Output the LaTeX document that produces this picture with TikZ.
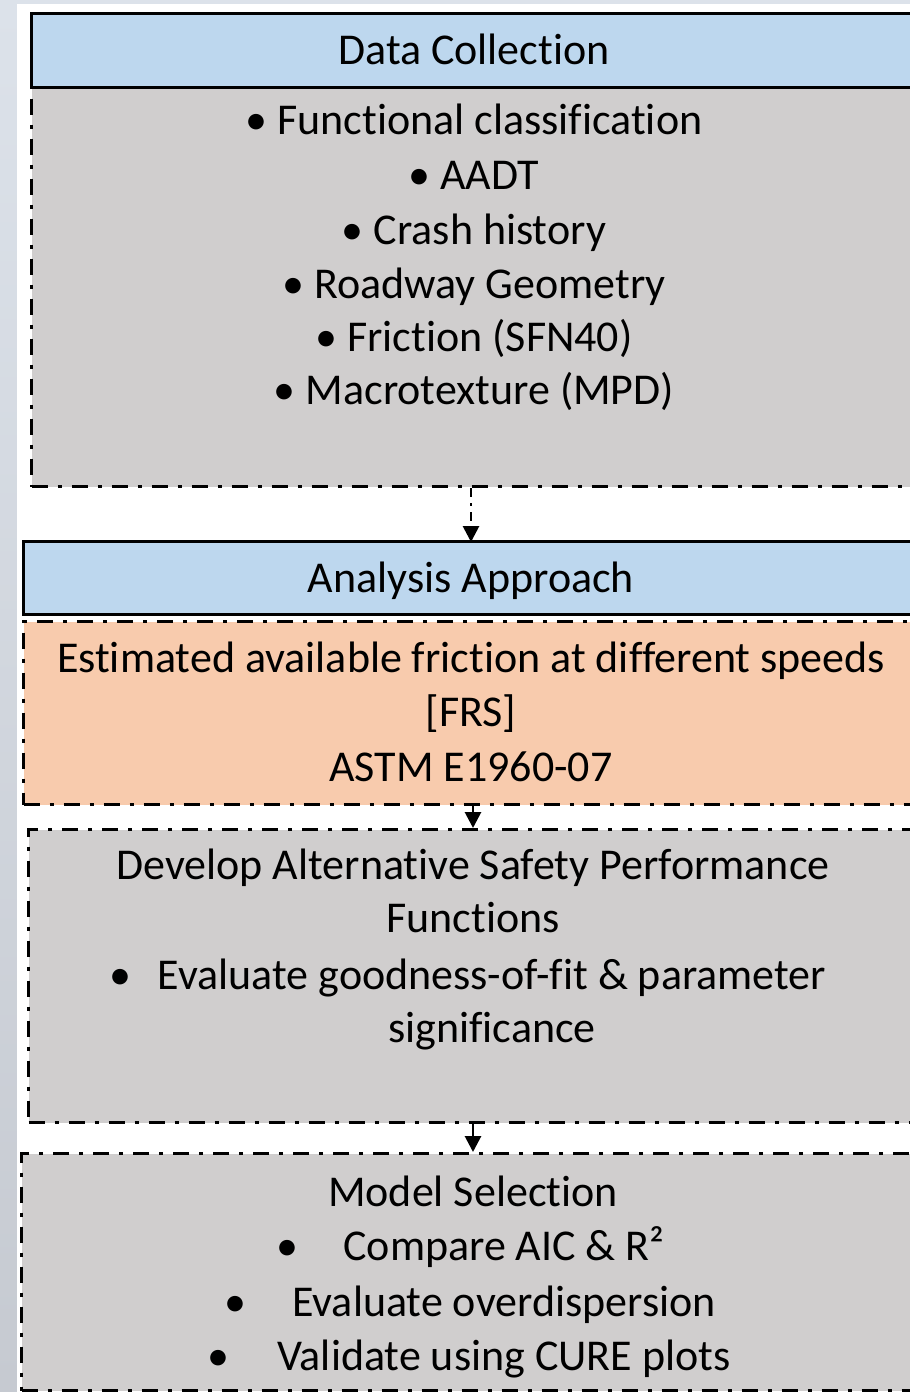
\documentclass[tikz,border=0pt]{standalone}
\usepackage{fontspec}
\setmainfont{Carlito}[RawFeature={-liga;-clig;-calt;-dlig}]
\usetikzlibrary{arrows.meta}
\definecolor{hdrblue}{HTML}{BDD7EE}
\definecolor{bodygray}{HTML}{D0CECE}
\definecolor{bodyorange}{HTML}{F8CBAD}
\definecolor{bgtop}{HTML}{DCE2EA}
\definecolor{bgbot}{HTML}{C6CAD1}
\begin{document}
\begin{tikzpicture}[x=1pt,y=-1pt,
  txt/.style={font=\fontsize{44}{54}\selectfont, inner sep=0pt, anchor=base},
  hdrbox/.style={draw=black, line width=3.4pt, fill=hdrblue, inner sep=0pt, anchor=north west},
  dashdot/.style={dash pattern=on 16pt off 10pt on 4pt off 10pt},
  bodybox/.style={draw=black, line width=3.3pt, dashdot, inner sep=0pt, anchor=north west},
  arr/.style={draw=black, line width=2.8pt, -{Triangle[width=16pt,length=16pt]}},
]
\useasboundingbox (0,0) rectangle (910,1392);
\clip (0,0) rectangle (910,1392);
% page background
\shade[top color=bgtop, bottom color=bgbot] (0,0) rectangle (17,1392);
\fill[bgtop] (17,0) rectangle (910,4);
\fill[white] (17,4) rectangle (910,1392);

% Box 1
\node[bodybox, fill=bodygray, minimum width=895pt, minimum height=399pt] (dcb) at (30,86) {};
\node[hdrbox, minimum width=895pt, minimum height=74pt] (dch) at (30,12) {};
\node[txt] (t1) at (474,64) {Data Collection};
\node[txt] (t2) at (474,134) {• Functional classification};
\node[txt] (t3) at (474,189) {• AADT};
\node[txt] (t4) at (474,244) {• Crash history};
\node[txt] (t5) at (474,298) {• Roadway Geometry};
\node[txt] (t6) at (474,351) {• Friction (SFN40)};
\node[txt] (t7) at (474,404) {• Macrotexture (MPD)};

% Box 2
\node[hdrbox, minimum width=903pt, minimum height=73pt] (aah) at (22,540) {};
\node[txt] (t8) at (471,592) {Analysis Approach};
\node[bodybox, fill=bodyorange, minimum width=903pt, minimum height=183pt] (frs) at (22,620) {};
\node[txt] (t9) at (471,672) {Estimated available friction at different speeds};
\node[txt] (t10) at (471,726) {[FRS]};
\node[txt] (t11) at (471,781) {ASTM E1960-07};

% Box 3
\node[bodybox, fill=bodygray, minimum width=898pt, minimum height=293pt] (spf) at (27,828) {};
\node[txt] (t12) at (473,879) {Develop Alternative Safety Performance};
\node[txt] (t13) at (473,932) {Functions};
\node[txt] (b1) at (120,989) {•};
\node[txt] (t14) at (492,989) {Evaluate goodness-of-fit \& parameter};
\node[txt] (t15) at (492,1042) {significance};

% Box 4
\node[bodybox, fill=bodygray, minimum width=905pt, minimum height=237pt] (ms) at (20,1152) {};
\node[txt] (t16) at (473,1206) {Model Selection};
\node[txt] (t17) at (504,1260) {Compare AIC \& R²};
\node[txt] (t18) at (504,1316) {Evaluate overdispersion};
\node[txt] (t19) at (504,1370) {Validate using CURE plots};
\node[txt, anchor=base] (b2) at ([xshift=-56pt]t17.base west) {•};
\node[txt, anchor=base] (b3) at ([xshift=-57pt]t18.base west) {•};
\node[txt, anchor=base] (b4) at ([xshift=-59pt]t19.base west) {•};

% connectors
\coordinate (xa) at (471,0);
\coordinate (xb) at (473,0);
\draw[arr, dash pattern=on 9pt off 6pt on 3pt off 6pt] (dcb.south -| xa) -- ([yshift=-2pt]aah.north -| xa);
\draw[arr] (frs.south -| xb) -- (spf.north -| xb);
\draw[arr] (spf.south -| xb) -- (ms.north -| xb);
\end{tikzpicture}
\end{document}
